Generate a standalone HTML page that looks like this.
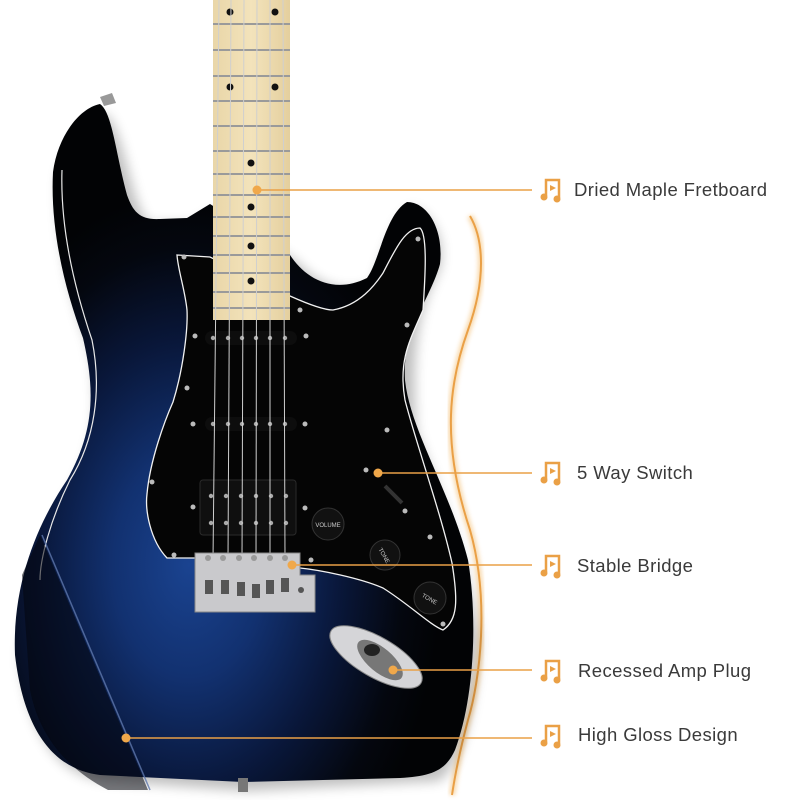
<!DOCTYPE html>
<html><head><meta charset="utf-8"><style>
html,body{margin:0;padding:0;background:#fff;}
.wrap{position:relative;width:800px;height:800px;overflow:hidden;background:#fff;font-family:"Liberation Sans",sans-serif;}
.lbl{position:absolute;left:575px;font-size:18.5px;color:#3a3a3a;letter-spacing:0.4px;}
</style></head><body><div class="wrap">
<svg width="800" height="800" viewBox="0 0 800 800" style="position:absolute;left:0;top:0">
<defs>
<radialGradient id="bg" cx="0.38" cy="0.68" r="0.55">
<stop offset="0" stop-color="#1a4390"/><stop offset="0.3" stop-color="#123170"/><stop offset="0.6" stop-color="#09173a"/><stop offset="0.85" stop-color="#04070f"/><stop offset="1" stop-color="#020305"/>
</radialGradient>
<linearGradient id="mp" x1="0" x2="1"><stop offset="0" stop-color="#e9d6a8"/><stop offset="0.5" stop-color="#f3e3bb"/><stop offset="1" stop-color="#e4cf9e"/></linearGradient>
<filter id="sh"><feGaussianBlur stdDeviation="6"/></filter>
<filter id="gl"><feGaussianBlur stdDeviation="2"/></filter>
</defs>
<path d="M470 216 C484 240 486 280 468 330 C450 380 440 440 470 530 C490 600 480 680 468 720 C460 750 455 775 452 795" fill="none" stroke="#f5c98a" stroke-width="6" filter="url(#gl)" opacity="0.7"/>
<path d="M470 216 C484 240 486 280 468 330 C450 380 440 440 470 530 C490 600 480 680 468 720 C460 750 455 775 452 795" fill="none" stroke="#eaa046" stroke-width="2"/>
<path d="M100 108 C120 130 125 200 143 218 L187 218 L210 204 L290 255 C307 273 333 292 367 278 C383 232 395 205 407 202 C430 210 440 240 433 264 C415 300 405 330 410 425 C430 480 460 540 473 632 C470 700 455 760 433 775 L243 785 L100 775 C60 770 25 740 15 655 C18 580 45 520 67 480 C90 440 95 400 83 338 C65 290 50 230 53 172 C60 140 80 110 100 108Z" fill="#000" opacity="0.25" filter="url(#sh)" transform="translate(6,6)"/>
<path d="M100 104 C112 112 115 150 127 195 C133 212 140 220 160 219 L187 218 L210 204 L290 255 C305 278 333 295 367 278 C380 260 385 215 407 202 C428 202 444 230 440 264 C430 300 402 330 405 380 C410 430 450 490 468 560 C478 620 474 700 455 750 C445 772 430 776 400 778 L243 782 L100 775 C60 770 25 740 15 655 C12 580 40 520 67 480 C95 430 95 390 83 338 C65 290 50 230 53 172 C58 135 80 108 100 104Z" fill="url(#bg)"/>
<path d="M62 170 C60 230 75 290 92 340 C102 390 95 440 70 480 C50 520 40 560 40 580" fill="none" stroke="#e8e8e8" stroke-width="1.2"/>
<path d="M42 535 L150 790" stroke="#5f78ad" stroke-width="1.5" opacity="0.8"/>
<path d="M22 575 L40 535 L148 790 L108 790 C70 770 40 740 30 690Z" fill="#03060d" opacity="0.55"/>
<path d="M177 255 L210 257 L290 296 C310 305 325 310 333 310 C360 305 375 285 383 273 C395 250 405 228 420 228 C428 235 425 280 423 310 C410 340 398 360 405 400 C415 440 440 510 452 563 C458 600 458 620 443 630 C430 625 410 605 383 588 C360 578 320 570 300 568 L197 558 L167 558 C150 540 145 510 147 494 C150 460 165 420 173 402 C183 370 188 330 187 310 C185 290 178 270 177 255Z" fill="#050505" stroke="#f2f2f2" stroke-width="1.3"/>
<g fill="#bbb">
<circle cx="184" cy="257" r="2.5"/><circle cx="300" cy="310" r="2.5"/><circle cx="418" cy="239" r="2.5"/><circle cx="407" cy="325" r="2.5"/><circle cx="387" cy="430" r="2.5"/><circle cx="366" cy="470" r="2.5"/><circle cx="430" cy="537" r="2.5"/><circle cx="443" cy="624" r="2.5"/><circle cx="152" cy="482" r="2.5"/><circle cx="174" cy="555" r="2.5"/><circle cx="311" cy="560" r="2.5"/><circle cx="187" cy="388" r="2.5"/><circle cx="195" cy="336" r="2.5"/><circle cx="306" cy="336" r="2.5"/><circle cx="193" cy="424" r="2.5"/><circle cx="305" cy="424" r="2.5"/><circle cx="193" cy="507" r="2.5"/><circle cx="305" cy="508" r="2.5"/><circle cx="405" cy="511" r="2.5"/>
</g>
<rect x="205" y="331" width="92" height="14" rx="7" fill="#0d0d0d"/>
<rect x="205" y="417" width="92" height="14" rx="7" fill="#0d0d0d"/>
<rect x="200" y="480" width="96" height="55" rx="3" fill="#0f0f0f" stroke="#2a2a2a"/>
<g fill="#aaa">
<circle cx="213" cy="338" r="2.2"/><circle cx="228" cy="338" r="2.2"/><circle cx="242" cy="338" r="2.2"/><circle cx="256" cy="338" r="2.2"/><circle cx="270" cy="338" r="2.2"/><circle cx="285" cy="338" r="2.2"/>
<circle cx="213" cy="424" r="2.2"/><circle cx="228" cy="424" r="2.2"/><circle cx="242" cy="424" r="2.2"/><circle cx="256" cy="424" r="2.2"/><circle cx="270" cy="424" r="2.2"/><circle cx="285" cy="424" r="2.2"/>
<circle cx="211" cy="496" r="2.2"/><circle cx="226" cy="496" r="2.2"/><circle cx="241" cy="496" r="2.2"/><circle cx="256" cy="496" r="2.2"/><circle cx="271" cy="496" r="2.2"/><circle cx="286" cy="496" r="2.2"/>
<circle cx="211" cy="523" r="2.2"/><circle cx="226" cy="523" r="2.2"/><circle cx="241" cy="523" r="2.2"/><circle cx="256" cy="523" r="2.2"/><circle cx="271" cy="523" r="2.2"/><circle cx="286" cy="523" r="2.2"/>
</g>
<circle cx="328" cy="524" r="16" fill="#111" stroke="#333"/><text x="328" y="527" font-size="6" fill="#ccc" text-anchor="middle" font-family="Liberation Sans">VOLUME</text>
<circle cx="385" cy="555" r="15" fill="#111" stroke="#333"/><text x="385" y="558" font-size="6" fill="#ccc" text-anchor="middle" transform="rotate(60 385 555)" font-family="Liberation Sans">TONE</text>
<circle cx="430" cy="598" r="16" fill="#111" stroke="#333"/><text x="430" y="601" font-size="6" fill="#ccc" text-anchor="middle" transform="rotate(30 430 598)" font-family="Liberation Sans">TONE</text>
<path d="M385 486 L402 503" stroke="#333" stroke-width="4"/>
<rect x="213" y="0" width="77" height="320" fill="url(#mp)"/>
<g stroke="#9a9a9a" stroke-width="2">
<line x1="213" y1="24" x2="290" y2="24"/><line x1="213" y1="50" x2="290" y2="50"/><line x1="213" y1="76" x2="290" y2="76"/><line x1="213" y1="101" x2="290" y2="101"/><line x1="213" y1="126" x2="290" y2="126"/><line x1="213" y1="151" x2="290" y2="151"/><line x1="213" y1="174" x2="290" y2="174"/><line x1="213" y1="195" x2="290" y2="195"/><line x1="213" y1="217" x2="290" y2="217"/><line x1="213" y1="236" x2="290" y2="236"/><line x1="213" y1="255" x2="290" y2="255"/><line x1="213" y1="273" x2="290" y2="273"/><line x1="213" y1="292" x2="290" y2="292"/><line x1="213" y1="308" x2="290" y2="308"/>
</g>
<g fill="#111">
<circle cx="230" cy="12" r="3.5"/><circle cx="275" cy="12" r="3.5"/>
<circle cx="230" cy="87" r="3.5"/><circle cx="275" cy="87" r="3.5"/>
<circle cx="251" cy="163" r="3.5"/><circle cx="251" cy="207" r="3.5"/><circle cx="251" cy="246" r="3.5"/><circle cx="251" cy="281" r="3.5"/>
</g>
<g stroke="#cfcfcf" stroke-width="1">
<line x1="219" y1="0" x2="213" y2="560"/><line x1="231" y1="0" x2="228" y2="560"/><line x1="244" y1="0" x2="242" y2="560"/><line x1="257" y1="0" x2="256" y2="560"/><line x1="270" y1="0" x2="270" y2="560"/><line x1="283" y1="0" x2="285" y2="560"/>
</g>
<path d="M195 553 L300 553 L300 575 L315 575 L315 612 L195 612Z" fill="#c9c9cc" stroke="#888"/>
<g fill="#555"><rect x="205" y="580" width="8" height="14"/><rect x="221" y="580" width="8" height="14"/><rect x="237" y="582" width="8" height="14"/><rect x="252" y="584" width="8" height="14"/><rect x="266" y="580" width="8" height="14"/><rect x="281" y="578" width="8" height="14"/><circle cx="301" cy="590" r="3"/></g>
<g fill="#999"><circle cx="208" cy="558" r="3"/><circle cx="223" cy="558" r="3"/><circle cx="239" cy="558" r="3"/><circle cx="254" cy="558" r="3"/><circle cx="270" cy="558" r="3"/><circle cx="285" cy="558" r="3"/></g>
<ellipse cx="376" cy="657" rx="52" ry="20" transform="rotate(30 376 657)" fill="#d5d5d8" stroke="#888"/>
<ellipse cx="380" cy="660" rx="28" ry="12" transform="rotate(40 380 660)" fill="#777"/>
<ellipse cx="372" cy="650" rx="8" ry="6" fill="#222"/>
<path d="M100 97 L112 93 L116 103 L104 106Z" fill="#999"/>
<rect x="238" y="778" width="10" height="14" fill="#777"/>
<g stroke="#eaa046" stroke-width="1.5">
<line x1="257" y1="190" x2="532" y2="190"/>
<line x1="378" y1="473" x2="532" y2="473"/>
<line x1="292" y1="565" x2="532" y2="565"/>
<line x1="393" y1="670" x2="532" y2="670"/>
<line x1="126" y1="738" x2="532" y2="738"/>
</g>
<g fill="#f0a84a"><circle cx="257" cy="190" r="4.5"/><circle cx="378" cy="473" r="4.5"/><circle cx="292" cy="565" r="4.5"/><circle cx="393" cy="670" r="4.5"/><circle cx="126" cy="738" r="4.5"/></g>
<g fill="none" stroke="#eaa046" stroke-width="2.5">
<g transform="translate(552,190)"><path d="M-6 6 V-10 H7 V8"/><circle cx="-8" cy="7" r="3.5" fill="#eaa046" stroke="none"/><circle cx="5" cy="9" r="3.5" fill="#eaa046" stroke="none"/><path d="M-2 -5 L4 -2 L-2 1Z" fill="#eaa046" stroke="none"/></g>
<g transform="translate(552,473)"><path d="M-6 6 V-10 H7 V8"/><circle cx="-8" cy="7" r="3.5" fill="#eaa046" stroke="none"/><circle cx="5" cy="9" r="3.5" fill="#eaa046" stroke="none"/><path d="M-2 -5 L4 -2 L-2 1Z" fill="#eaa046" stroke="none"/></g>
<g transform="translate(552,566)"><path d="M-6 6 V-10 H7 V8"/><circle cx="-8" cy="7" r="3.5" fill="#eaa046" stroke="none"/><circle cx="5" cy="9" r="3.5" fill="#eaa046" stroke="none"/><path d="M-2 -5 L4 -2 L-2 1Z" fill="#eaa046" stroke="none"/></g>
<g transform="translate(552,671)"><path d="M-6 6 V-10 H7 V8"/><circle cx="-8" cy="7" r="3.5" fill="#eaa046" stroke="none"/><circle cx="5" cy="9" r="3.5" fill="#eaa046" stroke="none"/><path d="M-2 -5 L4 -2 L-2 1Z" fill="#eaa046" stroke="none"/></g>
<g transform="translate(552,736)"><path d="M-6 6 V-10 H7 V8"/><circle cx="-8" cy="7" r="3.5" fill="#eaa046" stroke="none"/><circle cx="5" cy="9" r="3.5" fill="#eaa046" stroke="none"/><path d="M-2 -5 L4 -2 L-2 1Z" fill="#eaa046" stroke="none"/></g>
</g>
</svg>
<div class="lbl" style="top:179px;left:574px">Dried Maple Fretboard</div>
<div class="lbl" style="top:462px;left:577px">5 Way Switch</div>
<div class="lbl" style="top:555px;left:577px">Stable Bridge</div>
<div class="lbl" style="top:660px;left:578px">Recessed Amp Plug</div>
<div class="lbl" style="top:724px;left:578px">High Gloss Design</div>
</div></body></html>
